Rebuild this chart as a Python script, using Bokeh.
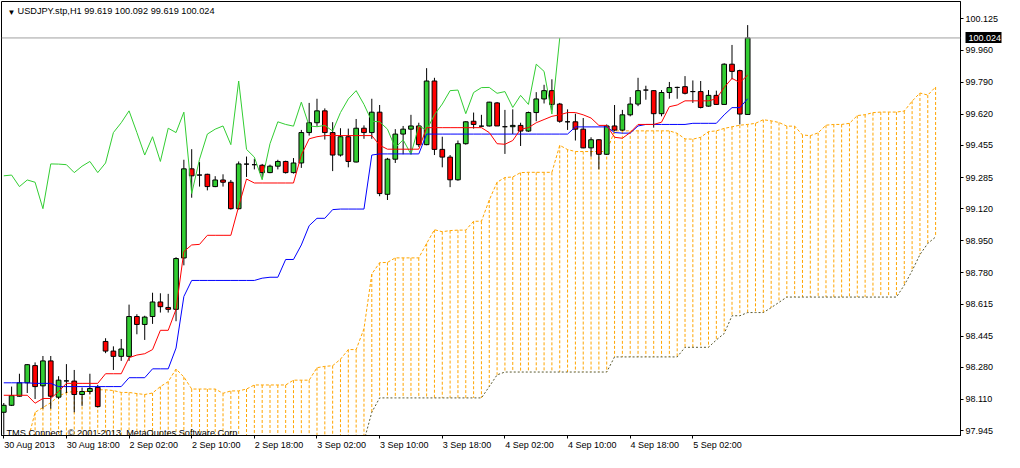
from bokeh.plotting import figure
from bokeh.models import (Range1d, FixedTicker, PrintfTickFormatter, Span, Label,
                          ColumnDataSource, LinearAxis)
from bokeh.embed import file_html
from bokeh.resources import INLINE

# ---- data (USDJPY.stp, H1) ----
opens = [98.042, 98.079, 98.127, 98.198, 98.289, 98.182, 98.314, 98.122, 98.208, 98.207,
         98.136, 98.152, 98.174, 98.417, 98.366, 98.338, 98.338, 98.549, 98.507, 98.549,
         98.626, 98.597, 98.587, 98.859, 99.331, 99.298, 99.302, 99.237, 99.272, 99.260,
         99.120, 99.356, 99.353, 99.350, 99.311, 99.345, 99.370, 99.311, 99.362, 99.523,
         99.575, 99.638, 99.523, 99.404, 99.501, 99.367, 99.546, 99.523, 99.631, 99.196,
         99.382, 99.515, 99.541, 99.558, 99.459, 99.796, 99.434, 99.393, 99.273, 99.464,
         99.583, 99.557, 99.558, 99.680, 99.554, 99.554, 99.561, 99.531, 99.629, 99.701,
         99.745, 99.674, 99.580, 99.580, 99.541, 99.442, 99.485, 99.408, 99.558, 99.536,
         99.617, 99.674, 99.748, 99.745, 99.623, 99.735, 99.762, 99.766, 99.740, 99.740,
         99.663, 99.720, 99.672, 99.885, 99.851, 99.619]
highs = [98.091, 98.178, 98.246, 98.297, 98.306, 98.340, 98.340, 98.233, 98.297, 98.266,
         98.173, 98.246, 98.187, 98.434, 98.391, 98.430, 98.612, 98.561, 98.553, 98.675,
         98.672, 98.669, 98.863, 99.379, 99.435, 99.367, 99.305, 99.292, 99.302, 99.272,
         99.370, 99.396, 99.384, 99.357, 99.353, 99.379, 99.374, 99.388, 99.537, 99.680,
         99.702, 99.651, 99.578, 99.546, 99.544, 99.595, 99.561, 99.702, 99.669, 99.389,
         99.541, 99.558, 99.617, 99.575, 99.864, 99.813, 99.501, 99.404, 99.481, 99.583,
         99.629, 99.617, 99.686, 99.685, 99.643, 99.646, 99.575, 99.634, 99.737, 99.776,
         99.805, 99.680, 99.646, 99.623, 99.600, 99.498, 99.487, 99.566, 99.669, 99.643,
         99.711, 99.813, 99.771, 99.747, 99.748, 99.791, 99.766, 99.822, 99.799, 99.796,
         99.748, 99.745, 99.890, 99.987, 99.856, 100.092]
lows = [97.923, 98.075, 98.125, 98.144, 98.112, 98.061, 98.061, 98.112, 98.144, 98.042,
        98.076, 98.137, 98.068, 98.355, 98.266, 98.314, 98.314, 98.455, 98.425, 98.510,
        98.570, 98.570, 98.524, 98.820, 99.178, 99.237, 99.217, 99.234, 99.237, 99.115,
        99.115, 99.288, 99.328, 99.285, 99.308, 99.328, 99.306, 99.306, 99.336, 99.507,
        99.558, 99.486, 99.319, 99.396, 99.339, 99.365, 99.490, 99.490, 99.186, 99.166,
        99.362, 99.408, 99.408, 99.447, 99.456, 99.404, 99.339, 99.234, 99.268, 99.459,
        99.544, 99.554, 99.555, 99.558, 99.410, 99.515, 99.452, 99.527, 99.583, 99.677,
        99.643, 99.575, 99.537, 99.481, 99.440, 99.396, 99.328, 99.405, 99.532, 99.532,
        99.609, 99.663, 99.697, 99.549, 99.609, 99.702, 99.702, 99.725, 99.680, 99.651,
        99.660, 99.669, 99.669, 99.805, 99.566, 99.619]
closes = [98.079, 98.130, 98.198, 98.294, 98.178, 98.314, 98.127, 98.212, 98.208, 98.136,
          98.152, 98.168, 98.072, 98.366, 98.338, 98.377, 98.549, 98.507, 98.546, 98.626,
          98.601, 98.587, 98.856, 99.331, 99.294, 99.298, 99.237, 99.272, 99.260, 99.120,
          99.357, 99.356, 99.353, 99.311, 99.345, 99.370, 99.311, 99.362, 99.523, 99.575,
          99.638, 99.523, 99.404, 99.501, 99.370, 99.546, 99.523, 99.631, 99.200, 99.382,
          99.515, 99.541, 99.558, 99.459, 99.796, 99.434, 99.393, 99.273, 99.464, 99.580,
          99.566, 99.557, 99.684, 99.558, 99.554, 99.561, 99.531, 99.629, 99.701, 99.745,
          99.672, 99.583, 99.580, 99.541, 99.442, 99.485, 99.408, 99.558, 99.536, 99.617,
          99.674, 99.745, 99.748, 99.623, 99.735, 99.761, 99.762, 99.731, 99.740, 99.656,
          99.720, 99.672, 99.885, 99.847, 99.621, 100.024]

# Ichimoku lines
tenkan = ([98.132] * 4 + [98.090, 98.115, 98.115, 98.152] + [98.195] * 5 + [98.246] * 3 +
          [98.331, 98.345, 98.352, 98.374, 98.476, 98.476, 98.587, 98.893, 98.928, 98.931] +
          [98.979] * 4 + [99.132, 99.277] + [99.256] * 6 + [99.404, 99.490, 99.501] +
          [99.507] * 7 + [99.456] + [99.435] * 5 + [99.549] * 8 +
          [99.523, 99.464, 99.461, 99.481, 99.541, 99.549, 99.575, 99.592, 99.609, 99.617,
           99.629, 99.629, 99.617, 99.600, 99.561, 99.561, 99.498, 99.493, 99.523] +
          [99.566] * 3 + [99.578, 99.660, 99.669] + [99.691] * 4 +
          [99.702, 99.762, 99.810, 99.788, 99.827])
kijun = ([98.198] * 4 + [98.195] * 3 + [98.178] * 9 + [98.225] * 3 + [98.272] * 3 +
         [98.382, 98.655] + [98.740] * 9 + [98.752, 98.757, 98.757, 98.851, 98.851,
         98.928, 99.030, 99.069, 99.069, 99.115] + [99.118] * 4 + [99.404] +
         [99.410] * 6 + [99.515] * 19 + [99.553] * 5 + [99.523, 99.520, 99.520, 99.558] +
         [99.566] * 6 + [99.572] * 4 + [99.617, 99.655, 99.655, 99.702])
senkou_a_head = [97.800, 97.800, 97.800, 97.880, 98.042, 98.067, 98.093, 98.127, 98.147, 98.152,
                 98.152, 98.152, 98.161, 98.161, 98.157, 98.147, 98.147, 98.141, 98.136, 98.144,
                 98.178, 98.204, 98.271, 98.229]
senkou_b = ([97.800] * 46 + [97.890, 98.042] + [98.118] * 14 + [98.178, 98.240] +
            [98.255] * 14 + [98.335] * 9 + [98.386] * 4 + [98.425, 98.459, 98.553, 98.553] +
            [98.570] * 3 + [98.596, 98.624] + [98.652] * 15 +
            [98.715, 98.791, 98.877, 98.936, 98.970])

shift = 24
tick_bars = [0, 8, 16, 24, 32, 40, 48, 56, 64, 72, 80, 88]
tick_labels = ["30 Aug 2013", "30 Aug 18:00", "2 Sep 02:00", "2 Sep 10:00", "2 Sep 18:00",
               "3 Sep 02:00", "3 Sep 10:00", "3 Sep 18:00", "4 Sep 02:00", "4 Sep 10:00",
               "4 Sep 18:00", "5 Sep 02:00"]
price_ticks = [100.125, 99.960, 99.790, 99.620, 99.455, 99.285, 99.120, 98.950,
               98.780, 98.615, 98.445, 98.280, 98.110, 97.945]
title_text = "USDJPY.stp,H1  99.619 100.092 99.619 100.024"
copyright_text = "TMS Connect, \u00a9 2001-2013, MetaQuotes Software Corp."

# ---- derived series ----
n = len(closes)
bars = list(range(n))
senkou_a = senkou_a_head + [(t + k) / 2 for t, k in zip(tenkan, kijun)]
cloud_bars = list(range(len(senkou_a)))
chikou_bars = bars[:n - shift]
chikou = closes[shift:]

UP = "#32CD32"
DN = "#FF0000"
colors = [UP if c > o else (DN if c < o else "black") for o, c in zip(opens, closes)]

candles = ColumnDataSource(dict(
    x=bars, top=[max(o, c) for o, c in zip(opens, closes)],
    bottom=[min(o, c) for o, c in zip(opens, closes)],
    high=highs, low=lows, color=colors))

# ---- layout ----
W, H = 1004, 452
BL, BT, BR, BB = 1, 1, 39, 17
x0, x1 = -0.29, 122.18
y0, y1 = 97.919, 100.217
FONT = "Liberation Sans"
LABEL_PX = 9
PRICE_PX = "9px"
px_per_bar = (W - BL - BR) / (x1 - x0)

# approximate advance widths (em) used to start each time label at its tick
_adv = {" ": 0.278, ":": 0.278, "A": 0.667, "S": 0.667, "u": 0.556, "g": 0.556,
        "e": 0.556, "p": 0.556}
def text_width(s):
    return sum(_adv.get(ch, 0.556) for ch in s) * LABEL_PX

label_pos = [round(b + (text_width(t) / 2 + 0.5) / px_per_bar, 3)
             for b, t in zip(tick_bars, tick_labels)]

p = figure(width=W, height=H, x_range=Range1d(x0, x1), y_range=Range1d(y0, y1),
           toolbar_location=None, output_backend="svg", y_axis_location="right",
           min_border_left=BL, min_border_top=BT, min_border_right=BR, min_border_bottom=BB)
p.background_fill_color = "white"
p.border_fill_color = "white"
p.outline_line_color = "black"
p.outline_line_width = 1
p.xgrid.visible = False
p.ygrid.visible = False

# cloud hatch (vertical dashed lines from Senkou A to Senkou B)
p.segment(x0=cloud_bars, y0=senkou_a, x1=cloud_bars, y1=senkou_b,
          line_color="#FFA500", line_width=1, line_dash="3 2")
p.line(cloud_bars, senkou_b, line_color="#5A5A32", line_width=1, line_dash="2 2")
p.line(cloud_bars, senkou_a, line_color="#FFA500", line_width=1, line_dash="3 2")

# candles
p.segment(x0="x", y0="low", x1="x", y1="high", source=candles, line_color="black", line_width=1)
p.vbar(x="x", top="top", bottom="bottom", width=0.6, source=candles,
       fill_color="color", line_color="black", line_width=1)

# indicator lines
p.line(chikou_bars, chikou, line_color="#32CD32", line_width=1)
p.line(bars, kijun, line_color="#0000FF", line_width=1)
p.line(bars, tenkan, line_color="#FF0000", line_width=1)

# bid line
p.add_layout(Span(location=closes[-1], dimension="width", line_color="#A0A0A0", line_width=1))

# x axis (closest to the chart): tick marks only
xa = p.xaxis[0]
xa.axis_label = None
xa.axis_label_standoff = 0
xa.ticker = FixedTicker(ticks=tick_bars)
xa.major_label_overrides = {b: "" for b in tick_bars}
xa.major_label_text_font_size = "1px"
xa.major_label_standoff = 0
xa.major_tick_in = 0
xa.major_tick_out = 3
xa.minor_tick_line_color = None
xa.axis_line_color = "black"
xa.major_tick_line_color = "black"

# second x axis: time labels, each starting at its tick
xl = LinearAxis(ticker=FixedTicker(ticks=label_pos), axis_label=None, axis_label_standoff=0,
                major_label_overrides={lp: t for lp, t in zip(label_pos, tick_labels)},
                major_label_text_font=FONT, major_label_text_font_size="%dpx" % LABEL_PX,
                major_label_text_color="black", major_label_standoff=1,
                major_tick_in=0, major_tick_out=0, major_tick_line_color=None,
                minor_tick_line_color=None, axis_line_color=None)
p.add_layout(xl, "below")

# price axis
ya = p.yaxis[0]
ya.axis_label = None
ya.axis_label_standoff = 0
ya.ticker = FixedTicker(ticks=price_ticks)
ya.formatter = PrintfTickFormatter(format="%.3f")
ya.major_label_text_font = FONT
ya.major_label_text_font_size = PRICE_PX
ya.major_label_text_color = "black"
ya.major_label_standoff = 2
ya.major_tick_in = 0
ya.major_tick_out = 3
ya.minor_tick_line_color = None
ya.axis_line_color = "black"
ya.major_tick_line_color = "black"

# current price box on the price scale (ticks drawn inwards, back over the price scale)
yb = LinearAxis(ticker=FixedTicker(ticks=[closes[-1]]), axis_label=None, axis_label_standoff=0,
                formatter=PrintfTickFormatter(format="%.3f"),
                major_label_text_font=FONT, major_label_text_font_size=PRICE_PX,
                major_label_text_color="white", major_label_standoff=-33,
                major_tick_in=36, major_tick_out=0, major_tick_line_width=11,
                major_tick_line_color="black", minor_tick_line_color=None,
                axis_line_color=None)
p.add_layout(yb, "right")

# texts inside the chart
p.add_layout(Label(x=x0, y=y1, x_offset=6, y_offset=-6, text="\u25bc", text_font=FONT,
                   text_font_size="8px", text_color="black", text_baseline="top"))
p.add_layout(Label(x=x0, y=y1, x_offset=16, y_offset=-4, text=title_text, text_font=FONT,
                   text_font_size="9.2px", text_color="black", text_baseline="top"))
p.add_layout(Label(x=x0, y=y0, x_offset=5, y_offset=3, text=copyright_text, text_font=FONT,
                   text_font_size="9.2px", text_color="black", text_baseline="alphabetic"))

open("out.html", "w").write(file_html(p, INLINE))
